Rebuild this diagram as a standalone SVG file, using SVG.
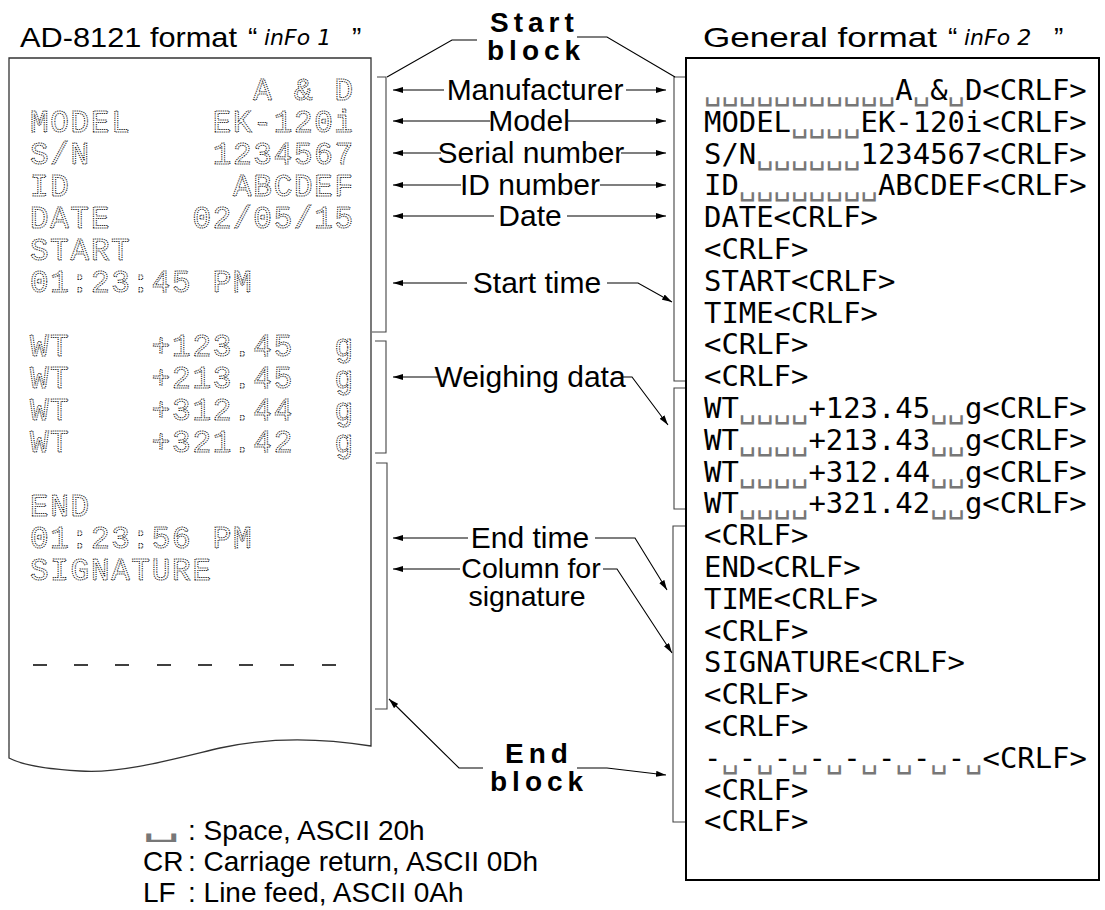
<svg xmlns="http://www.w3.org/2000/svg" width="1105" height="910" viewBox="0 0 1105 910">
<style>
.title{font-family:"Liberation Sans",Arial,sans-serif;font-size:28px;fill:#000}
.seg{font-family:"DejaVu Sans",sans-serif;font-style:italic;font-weight:200;font-size:22px;fill:#000}
.dot{font-family:"Liberation Mono",monospace;font-size:31px;letter-spacing:1.7px;fill:none;stroke:#111;stroke-width:1;stroke-dasharray:1.2 1}
.mono{font-family:"DejaVu Sans Mono",monospace;font-size:28.9px;fill:#000}
.sp{fill:#777}
.lbl{font-family:"Liberation Sans",Arial,sans-serif;font-size:30px;fill:#000}
.lbl2{font-family:"Liberation Sans",Arial,sans-serif;font-size:28.5px;fill:#000}
.big{font-family:"Liberation Sans",Arial,sans-serif;font-size:28px;font-weight:bold;letter-spacing:5px;fill:#000}
.leg{font-family:"Liberation Sans",Arial,sans-serif;font-size:28px;fill:#000}
.con{fill:none;stroke:#000;stroke-width:1.1}
.brk{fill:none;stroke:#444;stroke-width:1.1}
</style>
<defs>
<marker id="ah" viewBox="0 0 10 6" refX="10" refY="3" markerWidth="10" markerHeight="6" markerUnits="userSpaceOnUse" orient="auto"><path d="M0,0 L10,3 L0,6 z" fill="#000"/></marker>
</defs>
<rect width="1105" height="910" fill="#fff"/>

<g id="title-left">
<text class="title" x="20" y="47" textLength="217" lengthAdjust="spacingAndGlyphs">AD-8121 format</text>
<text class="title" x="248" y="47">“</text>
<text class="seg" x="264" y="45">inFo 1</text>
<text class="title" x="352" y="47">”</text>
</g>

<g id="paper-left">
<path d="M9,58 H371 V746 C320,738 270,737 220,748 C170,760 120,774 80,771 C45,769 20,764 9,758 Z" fill="#fff" stroke="#333" stroke-width="1.3"/>
<text class="dot" x="30" y="100" xml:space="preserve">           A &amp; D</text>
<text class="dot" x="30" y="132" xml:space="preserve">MODEL    EK-120i</text>
<text class="dot" x="30" y="164" xml:space="preserve">S/N      1234567</text>
<text class="dot" x="30" y="196" xml:space="preserve">ID        ABCDEF</text>
<text class="dot" x="30" y="228" xml:space="preserve">DATE    02/05/15</text>
<text class="dot" x="30" y="260">START</text>
<text class="dot" x="30" y="292" xml:space="preserve">01:23:45 PM</text>
<text class="dot" x="30" y="356" xml:space="preserve">WT    +123.45  g</text>
<text class="dot" x="30" y="388" xml:space="preserve">WT    +213.45  g</text>
<text class="dot" x="30" y="420" xml:space="preserve">WT    +312.44  g</text>
<text class="dot" x="30" y="452" xml:space="preserve">WT    +321.42  g</text>
<text class="dot" x="30" y="516">END</text>
<text class="dot" x="30" y="548" xml:space="preserve">01:23:56 PM</text>
<text class="dot" x="30" y="580">SIGNATURE</text>
<path d="M33,665 h14 M74,665 h14 M115,665 h14 M157,665 h14 M198,665 h14 M239,665 h14 M280,665 h14 M322,665 h14" stroke="#000" stroke-width="1.3"/>
</g>

<g id="title-right">
<text class="title" x="703" y="47" textLength="234" lengthAdjust="spacingAndGlyphs">General format</text>
<text class="title" x="948" y="47">“</text>
<text class="seg" x="964" y="45">inFo 2</text>
<text class="title" x="1054" y="47">”</text>
</g>

<g id="box-right">
<rect x="686" y="58" width="413" height="822" fill="#fff" stroke="#000" stroke-width="2"/>
<text class="mono" x="704" y="100"><tspan class="sp">␣␣␣␣␣␣␣␣␣␣␣</tspan>A<tspan class="sp">␣</tspan>&amp;<tspan class="sp">␣</tspan>D&lt;CRLF&gt;</text>
<text class="mono" x="704" y="131.8">MODEL<tspan class="sp">␣␣␣␣</tspan>EK-120i&lt;CRLF&gt;</text>
<text class="mono" x="704" y="163.6">S/N<tspan class="sp">␣␣␣␣␣␣</tspan>1234567&lt;CRLF&gt;</text>
<text class="mono" x="704" y="195.4">ID<tspan class="sp">␣␣␣␣␣␣␣␣</tspan>ABCDEF&lt;CRLF&gt;</text>
<text class="mono" x="704" y="227.2">DATE&lt;CRLF&gt;</text>
<text class="mono" x="704" y="259">&lt;CRLF&gt;</text>
<text class="mono" x="704" y="290.8">START&lt;CRLF&gt;</text>
<text class="mono" x="704" y="322.6">TIME&lt;CRLF&gt;</text>
<text class="mono" x="704" y="354.4">&lt;CRLF&gt;</text>
<text class="mono" x="704" y="386.2">&lt;CRLF&gt;</text>
<text class="mono" x="704" y="418">WT<tspan class="sp">␣␣␣␣</tspan>+123.45<tspan class="sp">␣␣</tspan>g&lt;CRLF&gt;</text>
<text class="mono" x="704" y="449.8">WT<tspan class="sp">␣␣␣␣</tspan>+213.43<tspan class="sp">␣␣</tspan>g&lt;CRLF&gt;</text>
<text class="mono" x="704" y="481.6">WT<tspan class="sp">␣␣␣␣</tspan>+312.44<tspan class="sp">␣␣</tspan>g&lt;CRLF&gt;</text>
<text class="mono" x="704" y="513.4">WT<tspan class="sp">␣␣␣␣</tspan>+321.42<tspan class="sp">␣␣</tspan>g&lt;CRLF&gt;</text>
<text class="mono" x="704" y="545.2">&lt;CRLF&gt;</text>
<text class="mono" x="704" y="577">END&lt;CRLF&gt;</text>
<text class="mono" x="704" y="608.8">TIME&lt;CRLF&gt;</text>
<text class="mono" x="704" y="640.6">&lt;CRLF&gt;</text>
<text class="mono" x="704" y="672.4">SIGNATURE&lt;CRLF&gt;</text>
<text class="mono" x="704" y="704.2">&lt;CRLF&gt;</text>
<text class="mono" x="704" y="736">&lt;CRLF&gt;</text>
<text class="mono" x="704" y="767.8">-<tspan class="sp">␣</tspan>-<tspan class="sp">␣</tspan>-<tspan class="sp">␣</tspan>-<tspan class="sp">␣</tspan>-<tspan class="sp">␣</tspan>-<tspan class="sp">␣</tspan>-<tspan class="sp">␣</tspan>-<tspan class="sp">␣</tspan>&lt;CRLF&gt;</text>
<text class="mono" x="704" y="799.6">&lt;CRLF&gt;</text>
<text class="mono" x="704" y="831.4">&lt;CRLF&gt;</text>
</g>

<g id="label-start-block"><text class="big" x="490" y="32">Start</text><text class="big" x="487" y="60">block</text></g>
<g id="label-manufacturer"><text class="lbl" x="535" y="100" text-anchor="middle">Manufacturer</text></g>
<g id="label-model"><text class="lbl" x="529" y="131" text-anchor="middle">Model</text></g>
<g id="label-serial"><text class="lbl" x="531" y="163" text-anchor="middle">Serial number</text></g>
<g id="label-id"><text class="lbl" x="530" y="195" text-anchor="middle">ID number</text></g>
<g id="label-date"><text class="lbl" x="530" y="226" text-anchor="middle">Date</text></g>
<g id="label-start-time"><text class="lbl" x="537" y="293" text-anchor="middle">Start time</text></g>
<g id="label-weighing"><text class="lbl" x="530" y="387" text-anchor="middle">Weighing data</text></g>
<g id="label-end-time"><text class="lbl" x="530" y="548" text-anchor="middle">End time</text></g>
<g id="label-column"><text class="lbl2" x="531" y="578" text-anchor="middle">Column for</text><text class="lbl2" x="527" y="606" text-anchor="middle">signature</text></g>
<g id="label-end-block"><text class="big" x="505" y="763">End</text><text class="big" x="490" y="791">block</text></g>

<g id="brackets">
<path class="brk" d="M377,77 H386 V332 H372"/>
<path class="brk" d="M375,341 H386 V453 H375"/>
<path class="brk" d="M376,463 H387 V709 H375"/>
<path class="brk" d="M685,77 H674 V381 H685"/>
<path class="brk" d="M685,388 H674 V509 H685"/>
<path class="brk" d="M685,526 H673 V822 H685"/>
</g>

<g id="connectors">
<path class="con" d="M387,77 L452,40 H477"/>
<path class="con" d="M577,37 H607 L675,77"/>
<path class="con" d="M444,90 H393" marker-end="url(#ah)"/>
<path class="con" d="M626,90 H666" marker-end="url(#ah)"/>
<path class="con" d="M490,121 H393" marker-end="url(#ah)"/>
<path class="con" d="M568,121 H666" marker-end="url(#ah)"/>
<path class="con" d="M441,153 H393" marker-end="url(#ah)"/>
<path class="con" d="M621,153 H666" marker-end="url(#ah)"/>
<path class="con" d="M461,185 H393" marker-end="url(#ah)"/>
<path class="con" d="M600,185 H666" marker-end="url(#ah)"/>
<path class="con" d="M494,216 H393" marker-end="url(#ah)"/>
<path class="con" d="M567,216 H666" marker-end="url(#ah)"/>
<path class="con" d="M467,283 H393" marker-end="url(#ah)"/>
<path class="con" d="M607,283 H638 L672,302" marker-end="url(#ah)"/>
<path class="con" d="M438,377 H393" marker-end="url(#ah)"/>
<path class="con" d="M622,377 H632 L668,425" marker-end="url(#ah)"/>
<path class="con" d="M468,538 H393" marker-end="url(#ah)"/>
<path class="con" d="M595,538 H635 L667,590" marker-end="url(#ah)"/>
<path class="con" d="M460,569 H393" marker-end="url(#ah)"/>
<path class="con" d="M603,569 H617 L672,653" marker-end="url(#ah)"/>
<path class="con" d="M483,768 H459 L389,699" marker-end="url(#ah)"/>
<path class="con" d="M577,768 H607 L666,775" marker-end="url(#ah)"/>
</g>

<g id="legend">
<text transform="translate(142,836) scale(2.3,1)" style="font-family:'DejaVu Sans',sans-serif;font-size:26px;fill:#777">␣</text>
<text class="leg" x="188" y="840">: Space, ASCII 20h</text>
<text class="leg" x="143" y="871">CR</text>
<text class="leg" x="188" y="871">: Carriage return, ASCII 0Dh</text>
<text class="leg" x="143" y="902">LF</text>
<text class="leg" x="188" y="902">: Line feed, ASCII 0Ah</text>
</g>
</svg>
